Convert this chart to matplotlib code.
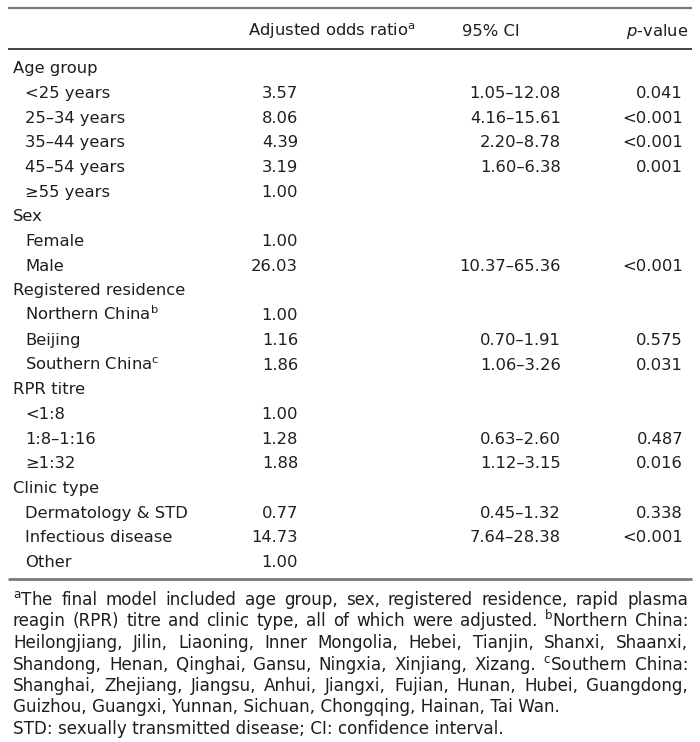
import matplotlib
matplotlib.use("Agg")
import matplotlib.pyplot as plt

# table content
row_labels = [
    "Age group", "<25 years", "25\u201334 years", "35\u201344 years", "45\u201354 years", "\u226555 years",
    "Sex", "Female", "Male",
    "Registered residence", "Northern China$^{\\mathrm{b}}$", "Beijing", "Southern China$^{\\mathrm{c}}$",
    "RPR titre", "<1:8", "1:8\u20131:16", "\u22651:32",
    "Clinic type", "Dermatology & STD", "Infectious disease", "Other",
]
odds_ratios = [
    "", "3.57", "8.06", "4.39", "3.19", "1.00",
    "", "1.00", "26.03",
    "", "1.00", "1.16", "1.86",
    "", "1.00", "1.28", "1.88",
    "", "0.77", "14.73", "1.00",
]
ci_ranges = [
    "", "1.05\u201312.08", "4.16\u201315.61", "2.20\u20138.78", "1.60\u20136.38", "",
    "", "", "10.37\u201365.36",
    "", "", "0.70\u20131.91", "1.06\u20133.26",
    "", "", "0.63\u20132.60", "1.12\u20133.15",
    "", "0.45\u20131.32", "7.64\u201328.38", "",
]
p_values = [
    "", "0.041", "<0.001", "<0.001", "0.001", "",
    "", "", "<0.001",
    "", "", "0.575", "0.031",
    "", "", "0.487", "0.016",
    "", "0.338", "<0.001", "",
]
headers = ["Adjusted odds ratio$^{\\mathrm{a}}$", "95% CI", "$p$-value"]

footnote_lines = [
    "$^{\\mathrm{a}}$The final model included age group, sex, registered residence, rapid plasma",
    "reagin (RPR) titre and clinic type, all of which were adjusted. $^{\\mathrm{b}}$Northern China:",
    "Heilongjiang, Jilin, Liaoning, Inner Mongolia, Hebei, Tianjin, Shanxi, Shaanxi,",
    "Shandong, Henan, Qinghai, Gansu, Ningxia, Xinjiang, Xizang. $^{\\mathrm{c}}$Southern China:",
    "Shanghai, Zhejiang, Jiangsu, Anhui, Jiangxi, Fujian, Hunan, Hubei, Guangdong,",
    "Guizhou, Guangxi, Yunnan, Sichuan, Chongqing, Hainan, Tai Wan.",
    "STD: sexually transmitted disease; CI: confidence interval.",
]
justified = [True, True, True, True, True, False, False]

plt.rcParams["font.family"] = ["DejaVu Sans"]
plt.rcParams["mathtext.fontset"] = "dejavusans"
FS = 11.8
FS_NOTE = 12.1
INK = "#1e1e1e"

W, H = 700, 742
fig = plt.figure(figsize=(W / 100, H / 100), dpi=100)
ax = fig.add_axes([0, 0, 1, 1])
ax.set_xlim(0, W); ax.set_ylim(H, 0); ax.axis("off")

# rules
ax.plot([8, 692], [8, 8], color="#7a7a7a", lw=1.6, solid_capstyle="butt")
ax.plot([8, 692], [49, 49], color="#111111", lw=1.1, solid_capstyle="butt")
ax.plot([8, 692], [579, 579], color="#7a7a7a", lw=2.0, solid_capstyle="butt")

# header
ax.text(248, 36, headers[0], fontsize=FS, color=INK, va="baseline", ha="left")
ax.text(462, 36, headers[1], fontsize=FS, color=INK, va="baseline", ha="left")
ax.text(688, 36, headers[2], fontsize=FS, color=INK, va="baseline", ha="right")

row0, step = 73.2, 24.7
for i, label in enumerate(row_labels):
    y = row0 + i * step
    indent = 25 if odds_ratios[i] else 13
    ax.text(indent, y, label, fontsize=FS, color=INK, va="baseline", ha="left")
    ax.text(298, y, odds_ratios[i], fontsize=FS, color=INK, va="baseline", ha="right")
    ax.text(561, y, ci_ranges[i], fontsize=FS, color=INK, va="baseline", ha="right")
    ax.text(683, y, p_values[i], fontsize=FS, color=INK, va="baseline", ha="right")

# footnote, justified like the journal layout
renderer = fig.canvas.get_renderer()
left, right = 13, 688
fn0, fn_step = 605, 21.5
for k, line in enumerate(footnote_lines):
    y = fn0 + k * fn_step
    if not justified[k]:
        ax.text(left, y, line, fontsize=FS_NOTE, color=INK, va="baseline", ha="left")
        continue
    words = line.split(" ")
    objs = [ax.text(0, y, w, fontsize=FS_NOTE, color=INK, va="baseline", ha="left") for w in words]
    widths = [o.get_window_extent(renderer).width for o in objs]
    gap = (right - left - sum(widths)) / (len(words) - 1)
    x = left
    for o, w in zip(objs, widths):
        o.set_x(x)
        x += w + gap

fig.savefig("out.png", dpi=100)
